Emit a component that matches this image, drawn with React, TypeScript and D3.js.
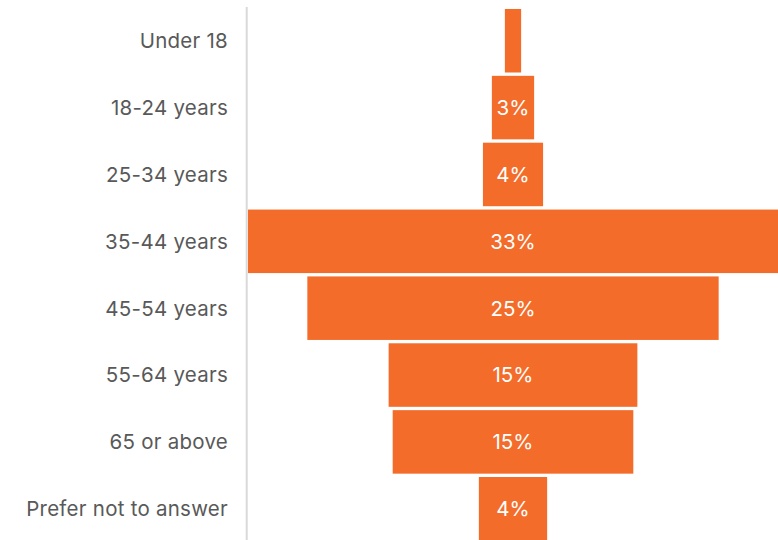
import React from "react";
import * as d3 from "d3";

const categories = [
  "Under 18",
  "18-24 years",
  "25-34 years",
  "35-44 years",
  "45-54 years",
  "55-64 years",
  "65 or above",
  "Prefer not to answer",
];
const values = [1.0, 2.6, 3.7, 32.6, 25.3, 15.3, 14.8, 4.2];

const W = 778;
const H = 540;
const axisX = 246.7;
const plotLeft = 248;
const plotRight = 778;
const FONT = "Inter, 'Noto Sans', sans-serif";

export default function App() {
  const maxV = d3.max(values) as number;
  const x = d3.scaleLinear().domain([0, maxV]).range([0, plotRight - plotLeft]);
  const cx = (plotLeft + plotRight) / 2;
  const y = d3
    .scaleBand<string>()
    .domain(categories)
    .range([7.3, 542.2])
    .paddingInner(0.05)
    .paddingOuter(0.025);
  const fmt = d3.format(".0%");

  return (
    <svg
      width={W}
      height={H}
      style={{ position: "absolute", left: 0, top: 0, background: "#fff" }}
      fontFamily={FONT}
    >
      {categories.map((c, i) => {
        const w = x(values[i]);
        const yy = y(c) as number;
        const h = y.bandwidth();
        return (
          <g key={c}>
            <rect x={cx - w / 2} y={yy} width={w} height={h} fill="#F36C29" />
            {w > 32 && (
              <text
                x={cx}
                y={yy + h / 2}
                dy="0.36em"
                textAnchor="middle"
                fill="#ffffff"
                fontSize={20.5}
              >
                {fmt(Math.round(values[i]) / 100)}
              </text>
            )}
            <text
              x={228}
              y={yy + h / 2}
              dy="0.36em"
              textAnchor="end"
              fill="#595959"
              fontSize={20.5}
              letterSpacing={0.25}
            >
              {c}
            </text>
          </g>
        );
      })}
      <line x1={axisX} x2={axisX} y1={7} y2={540} stroke="#d9d9d9" strokeWidth={2} />
    </svg>
  );
}
